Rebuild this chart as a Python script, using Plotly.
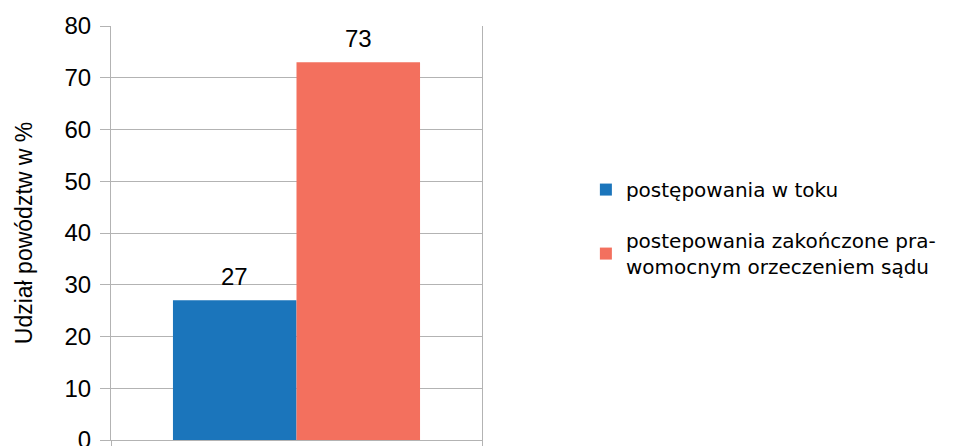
import plotly.graph_objects as go

categories = [""]
series_names = ["postępowania w toku", "postepowania zakończone pra-<br>womocnym orzeczeniem sądu"]
values_toku = [27]
values_zakonczone = [73]
colors = ["#1B75BB", "#F3705E"]
y_ticks = [0, 10, 20, 30, 40, 50, 60, 70, 80]

BARGAP = 0.334
series = [values_toku, values_zakonczone]

fig = go.Figure()
for i, vals in enumerate(series):
    fig.add_trace(go.Bar(x=categories, y=vals, name=series_names[i],
                         marker=dict(color=colors[i], line=dict(width=0)),
                         legendgroup=str(i)))

# value labels above bars, placed at bar centres (grouped-bar offsets derived from bargap)
n = len(series)
bw = (1 - BARGAP) / n
for i, vals in enumerate(series):
    off = -(1 - BARGAP) / 2 + bw * (i + 0.5)
    for j, v in enumerate(vals):
        fig.add_annotation(x=j + off, y=v, xref="x", yref="y", text=str(v),
                           showarrow=False, yanchor="bottom", yshift=8,
                           font=dict(family="Liberation Sans", size=24, color="#000"))

fig.update_layout(
    width=955, height=446,
    margin=dict(l=103, r=481, t=18, b=14),
    paper_bgcolor="white", plot_bgcolor="white",
    barmode="group", bargap=BARGAP, bargroupgap=0,
    showlegend=True,
    legend=dict(x=1.28, y=0.652, xanchor="left", yanchor="top",
                font=dict(family="DejaVu Sans", size=20, color="#000"),
                tracegroupgap=22, itemwidth=30),
    xaxis=dict(range=[-0.5, 0.5], showticklabels=False, ticks="outside",
               tickson="boundaries", ticklen=10, tickcolor="#b3b3b3",
               showline=True, linecolor="#b3b3b3", showgrid=False, zeroline=False,
               automargin=False),
    yaxis=dict(range=[0, 80], tickvals=y_ticks, ticks="outside", ticklen=10,
               tickcolor="#b3b3b3", showgrid=True, gridcolor="#b3b3b3",
               showline=True, linecolor="#b3b3b3", mirror=True, zeroline=False,
               automargin=False, ticklabelstandoff=4,
               tickfont=dict(family="Liberation Sans", size=24, color="#000"),
               title=dict(text="Udział powództw w %", standoff=25,
                          font=dict(family="Liberation Sans", size=23, color="#000"))),
)

fig.write_html("out.html")
